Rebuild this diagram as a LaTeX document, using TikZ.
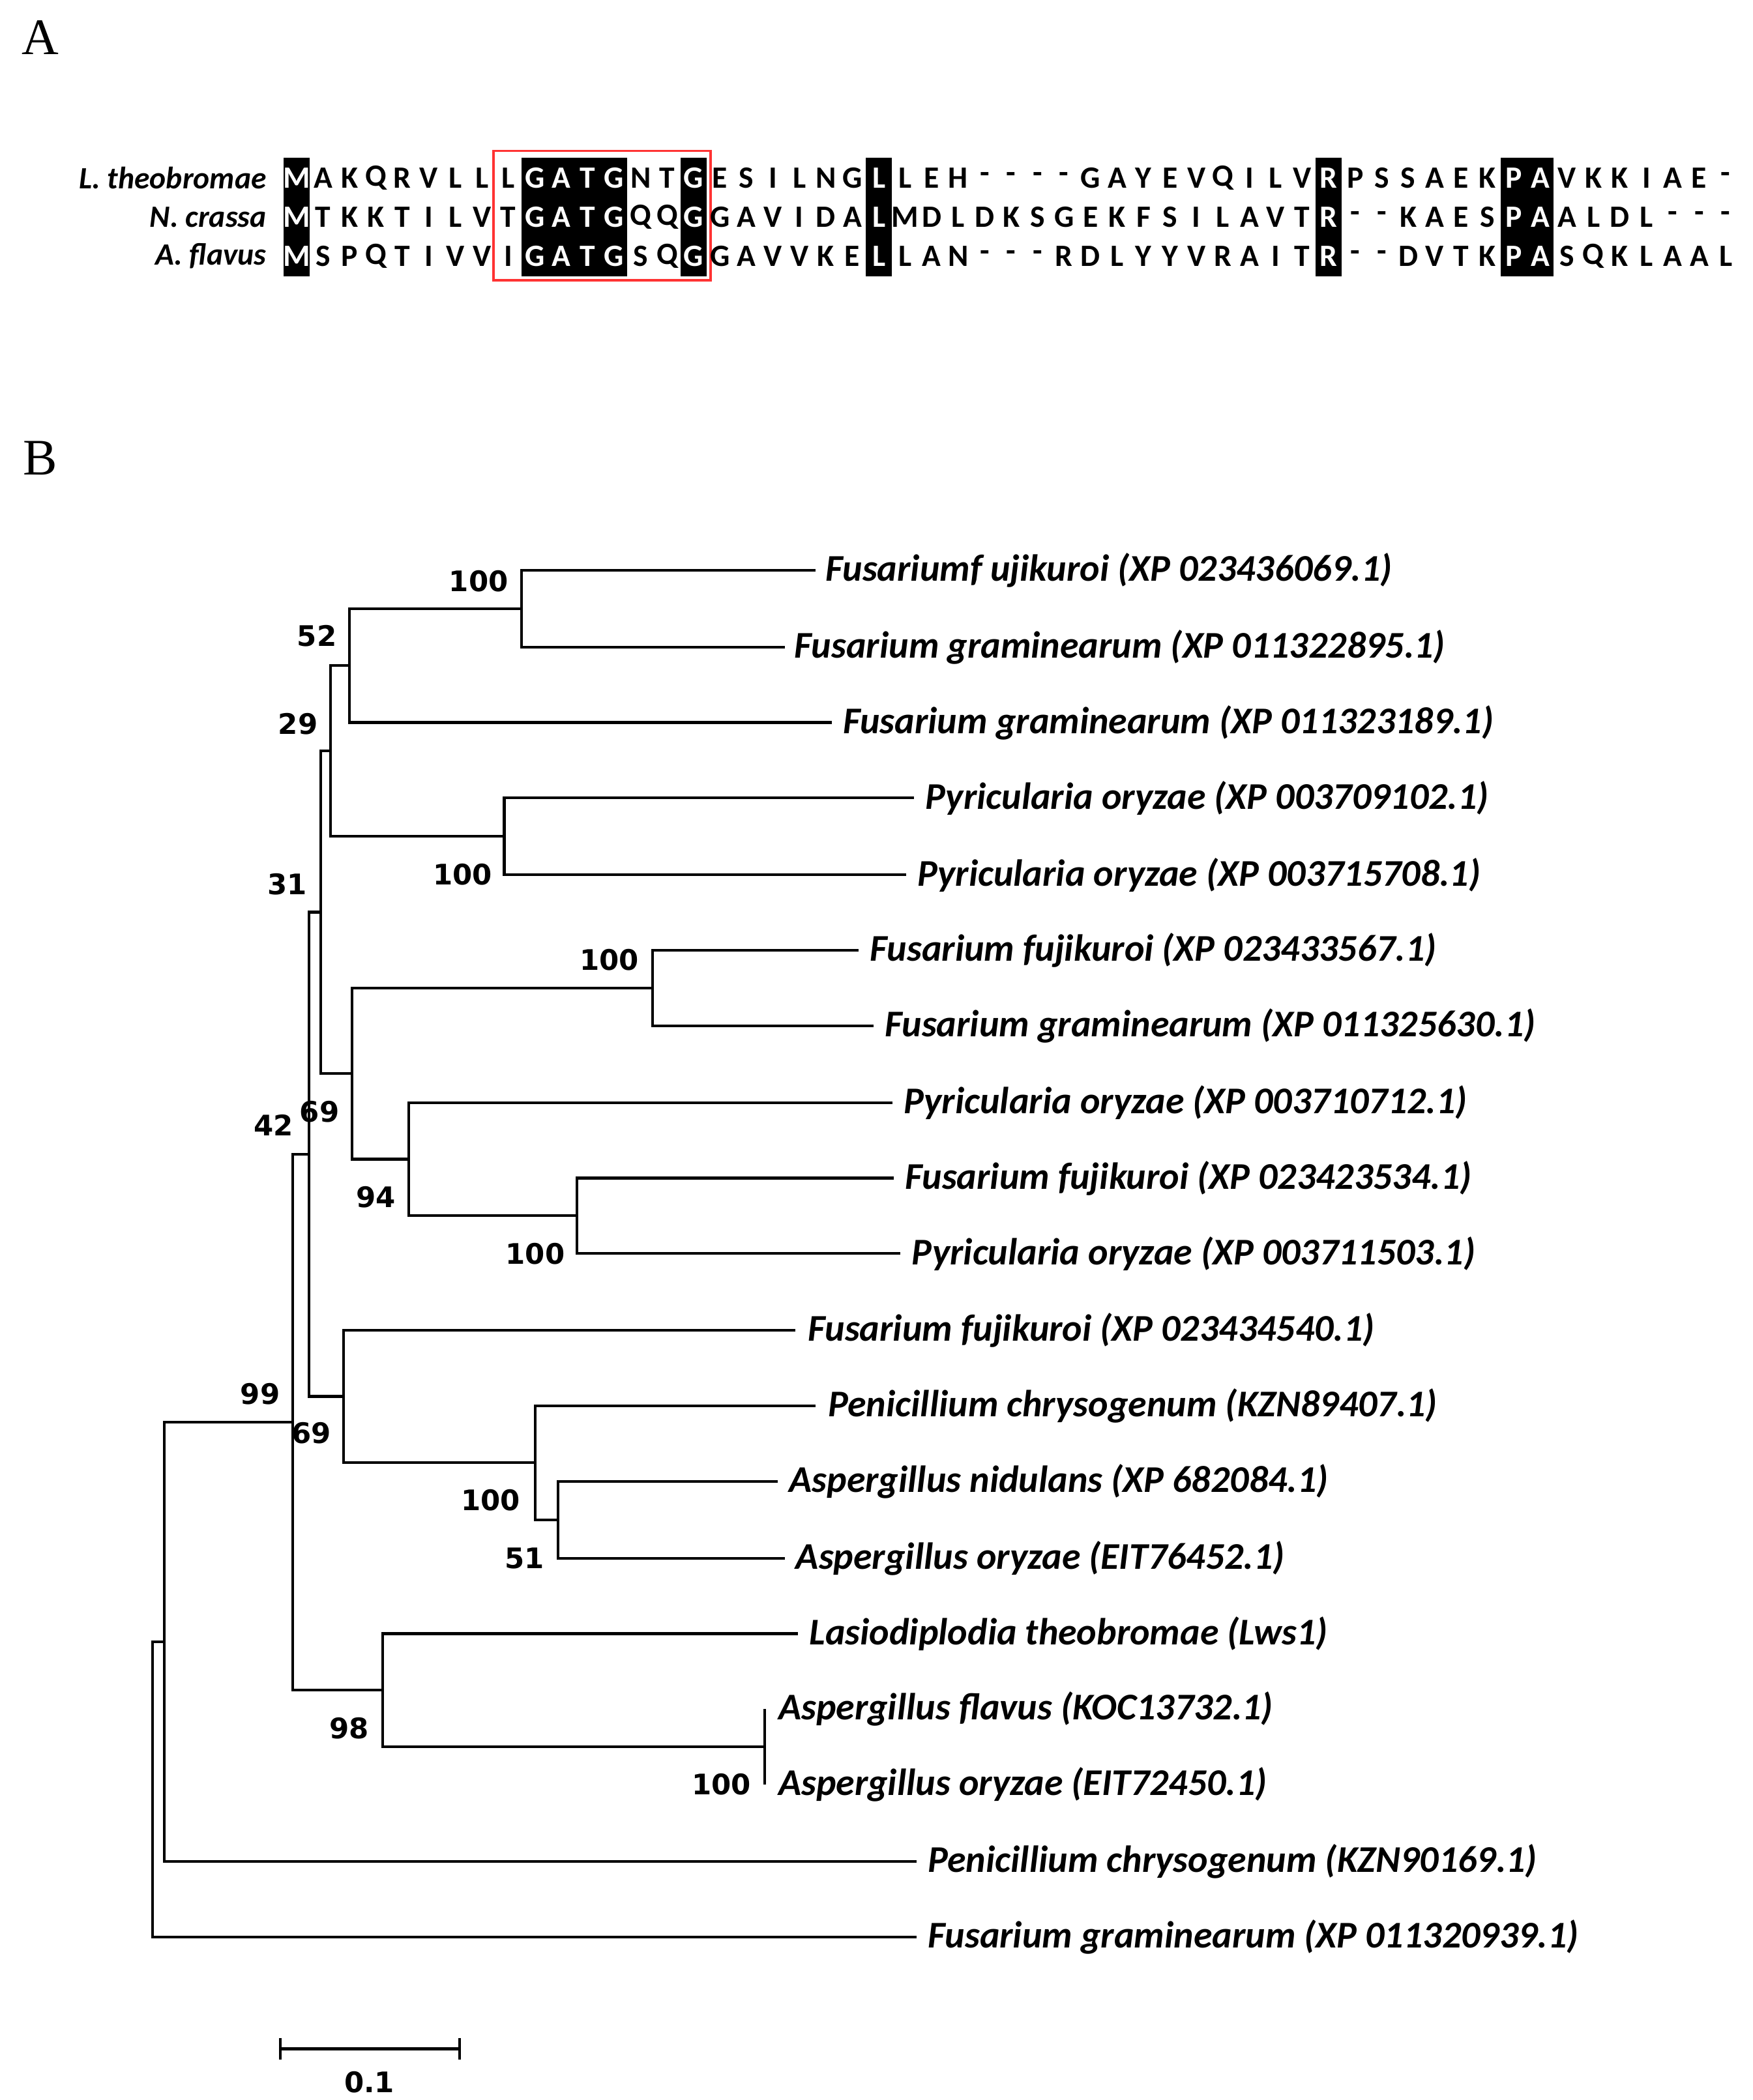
\documentclass[tikz,border=0pt]{standalone}
\usepackage{fontspec}
\setmainfont{Liberation Serif}
\newfontfamily\carl{Carlito}
\newfontfamily\dvs{DejaVu Sans}
\makeatletter
\newcommand{\ifhl}[3]{\@expandtwoargs\in@{,#1,}{,1,10,11,12,13,16,23,40,47,48,}\ifin@#2\else#3\fi}
\makeatother
\begin{document}
\begin{tikzpicture}[x=0.5pt,y=-0.5pt,
  br/.style={line width=1pt},
  leaf/.style={anchor=west,font=\carl\bfseries\itshape\fontsize{14}{14}\selectfont,inner sep=0pt},
  bs/.style={font=\dvs\bfseries\fontsize{10.5}{10.5}\selectfont,inner sep=0pt},
  aa/.style={font=\carl\bfseries\fontsize{11.5}{11.5}\selectfont,inner sep=0pt},
  sp/.style={anchor=east,font=\carl\bfseries\itshape\fontsize{11.5}{11.5}\selectfont,inner sep=0pt},
  pl/.style={font=\fontsize{19}{19}\selectfont,inner sep=0pt}]
\useasboundingbox (0,0) rectangle (1300,1558);
\node[pl] (A) at (30,28) {A};
\node[pl] (B) at (30,340) {B};
% alignment
\foreach \i in {1,10,11,12,13,16,23,40,47,48}
  \fill[black] ({220+(\i-1)*19.63-9.8},117) rectangle ({220+(\i-1)*19.63+9.8},205);
\draw[red!80,line width=0.9pt] (366,112) rectangle (527,208);
\node[sp] (s1) at (198,132) {L. theobromae};
\node[sp] (s2) at (198,161) {N. crassa};
\node[sp] (s3) at (198,190) {A. flavus};
\foreach \c [count=\i] in {M,A,K,Q,R,V,L,L,L,G,A,T,G,N,T,G,E,S,I,L,N,G,L,L,E,H,-,-,-,-,G,A,Y,E,V,Q,I,L,V,R,P,S,S,A,E,K,P,A,V,K,K,I,A,E,-}
  {\ifhl{\i}{\def\col{white}}{\def\col{black}}
  \node[aa,text=\col] (a\i) at ({220+(\i-1)*19.63},132) {\c};}
\foreach \c [count=\i] in {M,T,K,K,T,I,L,V,T,G,A,T,G,Q,Q,G,G,A,V,I,D,A,L,M,D,L,D,K,S,G,E,K,F,S,I,L,A,V,T,R,-,-,K,A,E,S,P,A,A,L,D,L,-,-,-}
  {\ifhl{\i}{\def\col{white}}{\def\col{black}}
  \node[aa,text=\col] (b\i) at ({220+(\i-1)*19.63},161) {\c};}
\foreach \c [count=\i] in {M,S,P,Q,T,I,V,V,I,G,A,T,G,S,Q,G,G,A,V,V,K,E,L,L,A,N,-,-,-,R,D,L,Y,Y,V,R,A,I,T,R,-,-,D,V,T,K,P,A,S,Q,K,L,A,A,L}
  {\ifhl{\i}{\def\col{white}}{\def\col{black}}
  \node[aa,text=\col] (c\i) at ({220+(\i-1)*19.63},190) {\c};}
% tree leaves
\coordinate (l1) at (605,423);  \node[leaf] (t1) at (612,423) {Fusariumf ujikuroi (XP 023436069.1)};
\coordinate (l2) at (582,480);  \node[leaf] (t2) at (589,480) {Fusarium graminearum (XP 011322895.1)};
\coordinate (l3) at (617,536);  \node[leaf] (t3) at (625,536) {Fusarium graminearum (XP 011323189.1)};
\coordinate (l4) at (678,592);  \node[leaf] (t4) at (686,592) {Pyricularia oryzae (XP 003709102.1)};
\coordinate (l5) at (672,649);  \node[leaf] (t5) at (680,649) {Pyricularia oryzae (XP 003715708.1)};
\coordinate (l6) at (637,705);  \node[leaf] (t6) at (645,705) {Fusarium fujikuroi (XP 023433567.1)};
\coordinate (l7) at (648,761);  \node[leaf] (t7) at (656,761) {Fusarium graminearum (XP 011325630.1)};
\coordinate (l8) at (662,818);  \node[leaf] (t8) at (670,818) {Pyricularia oryzae (XP 003710712.1)};
\coordinate (l9) at (663,874);  \node[leaf] (t9) at (671,874) {Fusarium fujikuroi (XP 023423534.1)};
\coordinate (l10) at (668,930); \node[leaf] (t10) at (676,930) {Pyricularia oryzae (XP 003711503.1)};
\coordinate (l11) at (590,987); \node[leaf] (t11) at (599,987) {Fusarium fujikuroi (XP 023434540.1)};
\coordinate (l12) at (605,1043);\node[leaf] (t12) at (614,1043) {Penicillium chrysogenum (KZN89407.1)};
\coordinate (l13) at (577,1099);\node[leaf] (t13) at (585,1099) {Aspergillus nidulans (XP 682084.1)};
\coordinate (l14) at (582,1156);\node[leaf] (t14) at (590,1156) {Aspergillus oryzae (EIT76452.1)};
\coordinate (l15) at (592,1212);\node[leaf] (t15) at (600,1212) {Lasiodiplodia theobromae (Lws1)};
\coordinate (l16) at (567,1268);\node[leaf] (t16) at (577,1268) {Aspergillus flavus (KOC13732.1)};
\coordinate (l17) at (567,1324);\node[leaf] (t17) at (577,1324) {Aspergillus oryzae (EIT72450.1)};
\coordinate (l18) at (680,1381);\node[leaf] (t18) at (688,1381) {Penicillium chrysogenum (KZN90169.1)};
\coordinate (l19) at (680,1437);\node[leaf] (t19) at (688,1437) {Fusarium graminearum (XP 011320939.1)};
% internal nodes
\coordinate (n1) at (387,451.5);
\coordinate (n2) at (259,493.75);
\coordinate (n3) at (374,620.5);
\coordinate (n4) at (245,557);
\coordinate (n5) at (484,733);
\coordinate (n6) at (428,902);
\coordinate (n7) at (303,860);
\coordinate (n8) at (261,796.5);
\coordinate (n9) at (238,676.75);
\coordinate (n10) at (414,1127.5);
\coordinate (n11) at (397,1085.25);
\coordinate (n12) at (255,1036);
\coordinate (n13) at (229,856.4);
\coordinate (n14) at (567,1296);
\coordinate (n15) at (284,1254);
\coordinate (n16) at (217,1055);
\coordinate (n17) at (122,1218);
\coordinate (n0) at (113,1327.5);
\begin{scope}[br]
\draw (n1) |- (l1); \draw (n1) |- (l2);
\draw (n2) |- (n1); \draw (n2) |- (l3);
\draw (n3) |- (l4); \draw (n3) |- (l5);
\draw (n4) |- (n2); \draw (n4) |- (n3);
\draw (n5) |- (l6); \draw (n5) |- (l7);
\draw (n6) |- (l9); \draw (n6) |- (l10);
\draw (n7) |- (l8); \draw (n7) |- (n6);
\draw (n8) |- (n5); \draw (n8) |- (n7);
\draw (n9) |- (n4); \draw (n9) |- (n8);
\draw (n10) |- (l13); \draw (n10) |- (l14);
\draw (n11) |- (l12); \draw (n11) |- (n10);
\draw (n12) |- (l11); \draw (n12) |- (n11);
\draw (n13) |- (n9); \draw (n13) |- (n12);
\draw (n14) |- (l16); \draw (n14) |- (l17);
\draw (n15) |- (l15); \draw (n15) |- (n14);
\draw (n16) |- (n13); \draw (n16) |- (n15);
\draw (n17) |- (n16); \draw (n17) |- (l18);
\draw (n0) |- (n17); \draw (n0) |- (l19);
\end{scope}
% bootstrap
\node[bs] (b1) at (355,431) {100};
\node[bs] (b2) at (235,472) {52};
\node[bs] (b3) at (221,537) {29};
\node[bs] (b4) at (343,649) {100};
\node[bs] (b5) at (213,656) {31};
\node[bs] (b6) at (452,712) {100};
\node[bs] (b7) at (237,825) {69};
\node[bs] (b8) at (203,835) {42};
\node[bs] (b9) at (279,888) {94};
\node[bs] (b10) at (397,930) {100};
\node[bs] (b11) at (193,1034) {99};
\node[bs] (b12) at (231,1063) {69};
\node[bs] (b13) at (364,1113) {100};
\node[bs] (b14) at (389,1156) {51};
\node[bs] (b15) at (259,1282) {98};
\node[bs] (b16) at (535,1324) {100};
% scale bar
\coordinate (s0) at (208,1520);
\coordinate (s1e) at (341,1520);
\draw[br] (s0) -- (s1e);
\draw[br] (208,1512) -- (208,1528);
\draw[br] (341,1512) -- (341,1528);
\node[bs] (sl) at (274,1545) {0.1};
\end{tikzpicture}
\end{document}
